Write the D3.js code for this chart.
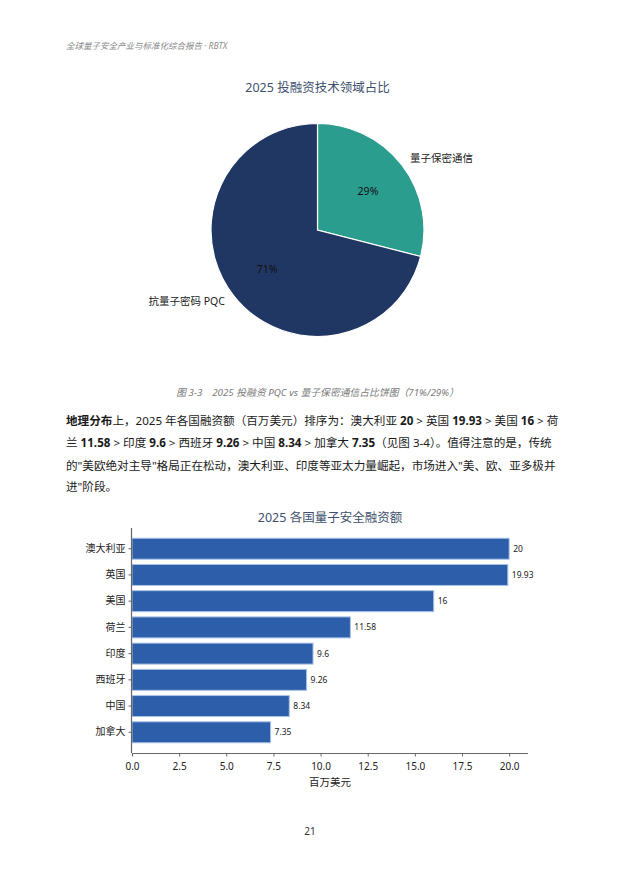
<!DOCTYPE html>
<html><head><meta charset="utf-8">
<script src="https://cdn.jsdelivr.net/npm/d3@7"></script>
<style>
html,body{margin:0;padding:0;background:#fff;}
svg{display:block;font-family:"Noto Sans","Noto Sans CJK SC",sans-serif;}
</style></head>
<body>
<svg id="page" width="620" height="877"></svg>
<script>
// ---- data ----
const pieLabels = ["量子保密通信", "抗量子密码 PQC"];
const pieValues = [29, 71];
const pieColors = ["#2a9d8f", "#213763"];

const countries = ["澳大利亚", "英国", "美国", "荷兰", "印度", "西班牙", "中国", "加拿大"];
const funding = [20, 19.93, 16, 11.58, 9.6, 9.26, 8.34, 7.35];
const xTicks = [0, 2.5, 5, 7.5, 10, 12.5, 15, 17.5, 20];

const headerText = "全球量子安全产业与标准化综合报告 · RBTX";
const pieTitle = "2025 投融资技术领域占比";
const pieCaption = "图 3-3　2025 投融资 PQC vs 量子保密通信占比饼图（71%/29%）";
const barTitle = "2025 各国量子安全融资额";
const xLabel = "百万美元";
const pageNum = "21";
// paragraph lines: [text, bold]
const paraLines = [
  [["地理分布", true], ["上，2025 年各国融资额（百万美元）排序为：澳大利亚 ", false], ["20", true], [" > 英国 ", false], ["19.93", true], [" > 美国 ", false], ["16", true], [" > 荷", false]],
  [["兰 ", false], ["11.58", true], [" > 印度 ", false], ["9.6", true], [" > 西班牙 ", false], ["9.26", true], [" > 中国 ", false], ["8.34", true], [" > 加拿大 ", false], ["7.35", true], ["（见图 3-4）。值得注意的是，传统", false]],
  [["的\"美欧绝对主导\"格局正在松动，澳大利亚、印度等亚太力量崛起，市场进入\"美、欧、亚多极并", false]],
  [["进\"阶段。", false]]
];

const svg = d3.select("#page");

// header
svg.append("text").attr("x", 66).attr("y", 49)
  .attr("font-size", 8.5).attr("font-style", "italic").attr("fill", "#8a8a8a")
  .text(headerText);

// ---- pie ----
const cx = 317.5, cy = 230, r = 106.5;
svg.append("text").attr("x", cx).attr("y", 92).attr("text-anchor", "middle")
  .attr("font-size", 12.5).attr("fill", "#3e4f6d").text(pieTitle);

const pie = d3.pie().sort(null).value(d => d)(pieValues);
const arc = d3.arc().innerRadius(0).outerRadius(r);
const gp = svg.append("g").attr("transform", `translate(${cx},${cy})`);
gp.selectAll("path").data(pie).join("path")
  .attr("d", arc).attr("fill", (d, i) => pieColors[i])
  .attr("stroke", "#fff").attr("stroke-width", 1.2);
const pctArc = d3.arc().innerRadius(r * 0.6).outerRadius(r * 0.6);
gp.selectAll("text.pct").data(pie).join("text").attr("class", "pct")
  .attr("transform", d => `translate(${pctArc.centroid(d)})`)
  .attr("text-anchor", "middle").attr("dy", "0.35em")
  .attr("font-size", 10.5).attr("fill", "#111")
  .text(d => d.value + "%");
const lblArc = d3.arc().innerRadius(r * 1.1).outerRadius(r * 1.1);
gp.selectAll("text.lbl").data(pie).join("text").attr("class", "lbl")
  .attr("transform", d => `translate(${lblArc.centroid(d)})`)
  .attr("text-anchor", d => lblArc.centroid(d)[0] >= 0 ? "start" : "end")
  .attr("dy", "0.35em")
  .attr("font-size", 10.5).attr("fill", "#222")
  .text((d, i) => pieLabels[i]);

// caption
svg.append("text").attr("x", cx).attr("y", 396).attr("text-anchor", "middle")
  .attr("font-size", 9.8).attr("font-style", "italic").attr("fill", "#7a7a7a")
  .text(pieCaption);

// ---- paragraph ----
const lineYs = [425, 447, 470, 491];
paraLines.forEach((segs, li) => {
  const t = svg.append("text").attr("x", 66).attr("y", lineYs[li])
    .attr("font-size", 11.6).attr("fill", "#1a1a1a");
  segs.forEach(([s, b]) => {
    t.append("tspan").attr("font-weight", b ? "bold" : "normal").text(s);
  });
});

// ---- bar chart ----
const bx0 = 132, bx1 = 528, by0 = 528, by1 = 753;
svg.append("text").attr("x", (bx0 + bx1) / 2).attr("y", 522).attr("text-anchor", "middle")
  .attr("font-size", 12.5).attr("fill", "#3e4f6d").text(barTitle);

const x = d3.scaleLinear().domain([0, 21]).range([bx0, bx1]);
const y = d3.scaleBand().domain(countries).range([by0, by1])
  .paddingInner(0.2).paddingOuter(0.39);

svg.append("g").selectAll("rect").data(countries).join("rect")
  .attr("x", x(0)).attr("y", d => y(d))
  .attr("width", (d, i) => x(funding[i]) - x(0))
  .attr("height", y.bandwidth())
  .attr("fill", "#2c5ea9").attr("stroke", "#a9c3e6").attr("stroke-width", 1);

svg.append("g").selectAll("text").data(countries).join("text")
  .attr("x", (d, i) => x(funding[i]) + 4).attr("y", d => y(d) + y.bandwidth() / 2)
  .attr("dy", "0.35em").attr("font-size", 8.5).attr("fill", "#222")
  .text((d, i) => funding[i]);

const xAxis = svg.append("g").attr("transform", `translate(0,${by1})`)
  .call(d3.axisBottom(x).tickValues(xTicks).tickFormat(d3.format(".1f")).tickSize(3.5));
const yAxis = svg.append("g").attr("transform", `translate(${bx0},0)`)
  .call(d3.axisLeft(y).tickSize(3.5));
[xAxis, yAxis].forEach(a => {
  a.select(".domain").attr("stroke", "#666").attr("stroke-width", 1.2);
  a.selectAll(".tick line").attr("stroke", "#666");
  a.selectAll(".tick text").attr("fill", "#222").attr("font-size", 10)
    .attr("font-family", "'Noto Sans','Noto Sans CJK SC',sans-serif");
});
xAxis.select(".domain").attr("d", `M${bx0},0.5H${bx1}`);
yAxis.select(".domain").attr("d", `M-0.5,${by0}V${by1}`);
xAxis.selectAll(".tick text").attr("dy", "1.05em");

svg.append("text").attr("x", (bx0 + bx1) / 2).attr("y", 786).attr("text-anchor", "middle")
  .attr("font-size", 10.5).attr("fill", "#222").text(xLabel);

// page number
svg.append("text").attr("x", 310).attr("y", 835).attr("text-anchor", "middle")
  .attr("font-size", 10).attr("fill", "#333").text(pageNum);
</script>
</body></html>
